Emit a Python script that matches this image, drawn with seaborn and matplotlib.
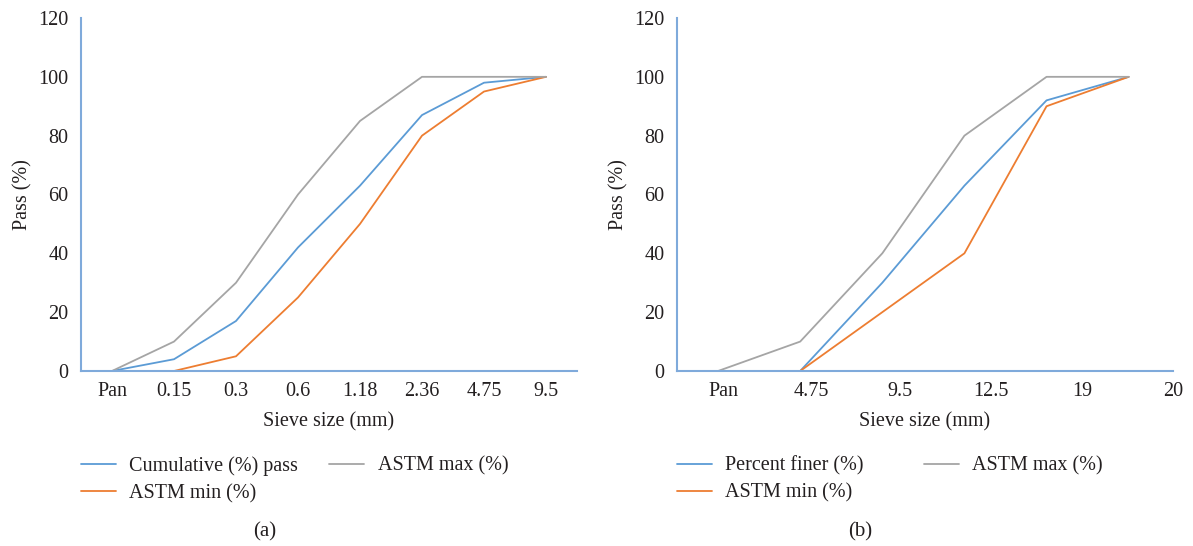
import matplotlib
matplotlib.use("Agg")
import matplotlib.pyplot as plt
import numpy as np
import pandas as pd
import seaborn as sns

# panel (a): fine aggregate
sieves_a = ["Pan", "0.15", "0.3", "0.6", "1.18", "2.36", "4.75", "9.5"]
cumulative_pass = [0, 4, 17, 42, 63, 87, 98, 100]
astm_max_a = [0, 10, 30, 60, 85, 100, 100, 100]
astm_min_a = [0, 0, 5, 25, 50, 80, 95, 100]

# panel (b): coarse aggregate
sieves_b = ["Pan", "4.75", "9.5", "12.5", "19", "20"]
percent_finer = [0, 0, 30, 63, 92, 100]
astm_max_b = [0, 10, 40, 80, 100, 100]
astm_min_b = [0, 0, 20, 40, 90, 100]

BLUE = "#5B9BD5"
ORANGE = "#ED7D31"
GREY = "#A5A5A5"
AXIS = "#7FAADB"

sns.set_style("white")
plt.rcParams["font.family"] = ["Liberation Serif", "DejaVu Serif"]
plt.rcParams["text.color"] = "#231F20"
plt.rcParams["axes.labelcolor"] = "#231F20"
plt.rcParams["xtick.color"] = "#231F20"
plt.rcParams["ytick.color"] = "#231F20"

FS = 14.5


def long_df(series):
    rows = []
    for name, vals in series:
        for i, v in enumerate(vals):
            rows.append({"pos": i, "value": v, "series": name})
    return pd.DataFrame(rows)


def draw_panel(ax, labels, series, tick_pos, caption, colspace):
    df = long_df(series)
    names = [s[0] for s in series]
    palette = dict(zip(names, [BLUE, ORANGE, GREY]))
    sns.lineplot(data=df, x="pos", y="value", hue="series", hue_order=names,
                 palette=palette, linewidth=1.3, ax=ax, legend=True)
    n = len(labels)
    ax.set_xlim(-0.5, n - 0.5)
    ax.set_ylim(0, 120)
    ax.set_yticks(np.arange(0, 121, 20))
    ax.set_xticks(tick_pos)
    ax.set_xticklabels(labels)
    ax.tick_params(axis="both", length=0, labelsize=FS)
    ax.tick_params(axis="x", pad=8)
    ax.tick_params(axis="y", pad=9)
    for s in ["top", "right"]:
        ax.spines[s].set_visible(False)
    for s in ["left", "bottom"]:
        ax.spines[s].set_color(AXIS)
        ax.spines[s].set_linewidth(1.5)
    ax.set_xlabel("Sieve size (mm)", fontsize=FS, labelpad=8)
    ax.set_ylabel("Pass (%)", fontsize=FS, labelpad=4)
    ax.legend(loc="upper left", bbox_to_anchor=(-0.037, -0.19), ncol=2,
              frameon=False, fontsize=FS, handlelength=1.75,
              handletextpad=0.65, columnspacing=colspace, labelspacing=0.4)
    ax.text(0.37, -0.455, caption, transform=ax.transAxes, fontsize=FS + 0.5,
            ha="center", va="center")


fig = plt.figure(figsize=(11.93, 5.46), dpi=100)
ax_a = fig.add_axes([81 / 1193, 175 / 546, 496 / 1193, 353 / 546])
ax_b = fig.add_axes([677 / 1193, 175 / 546, 496 / 1193, 353 / 546])

draw_panel(ax_a, sieves_a,
           [("Cumulative (%) pass", cumulative_pass),
            ("ASTM min (%)", astm_min_a),
            ("ASTM max (%)", astm_max_a)],
           np.arange(len(sieves_a)), "(a)", 1.55)

# labels in panel (b) sit slightly off the data positions in the source
draw_panel(ax_b, sieves_b,
           [("Percent finer (%)", percent_finer),
            ("ASTM min (%)", astm_min_b),
            ("ASTM max (%)", astm_max_b)],
           [0.06, 1.14, 2.22, 3.32, 4.44, 5.54], "(b)", 3.0)

fig.savefig("out.png", dpi=100)
